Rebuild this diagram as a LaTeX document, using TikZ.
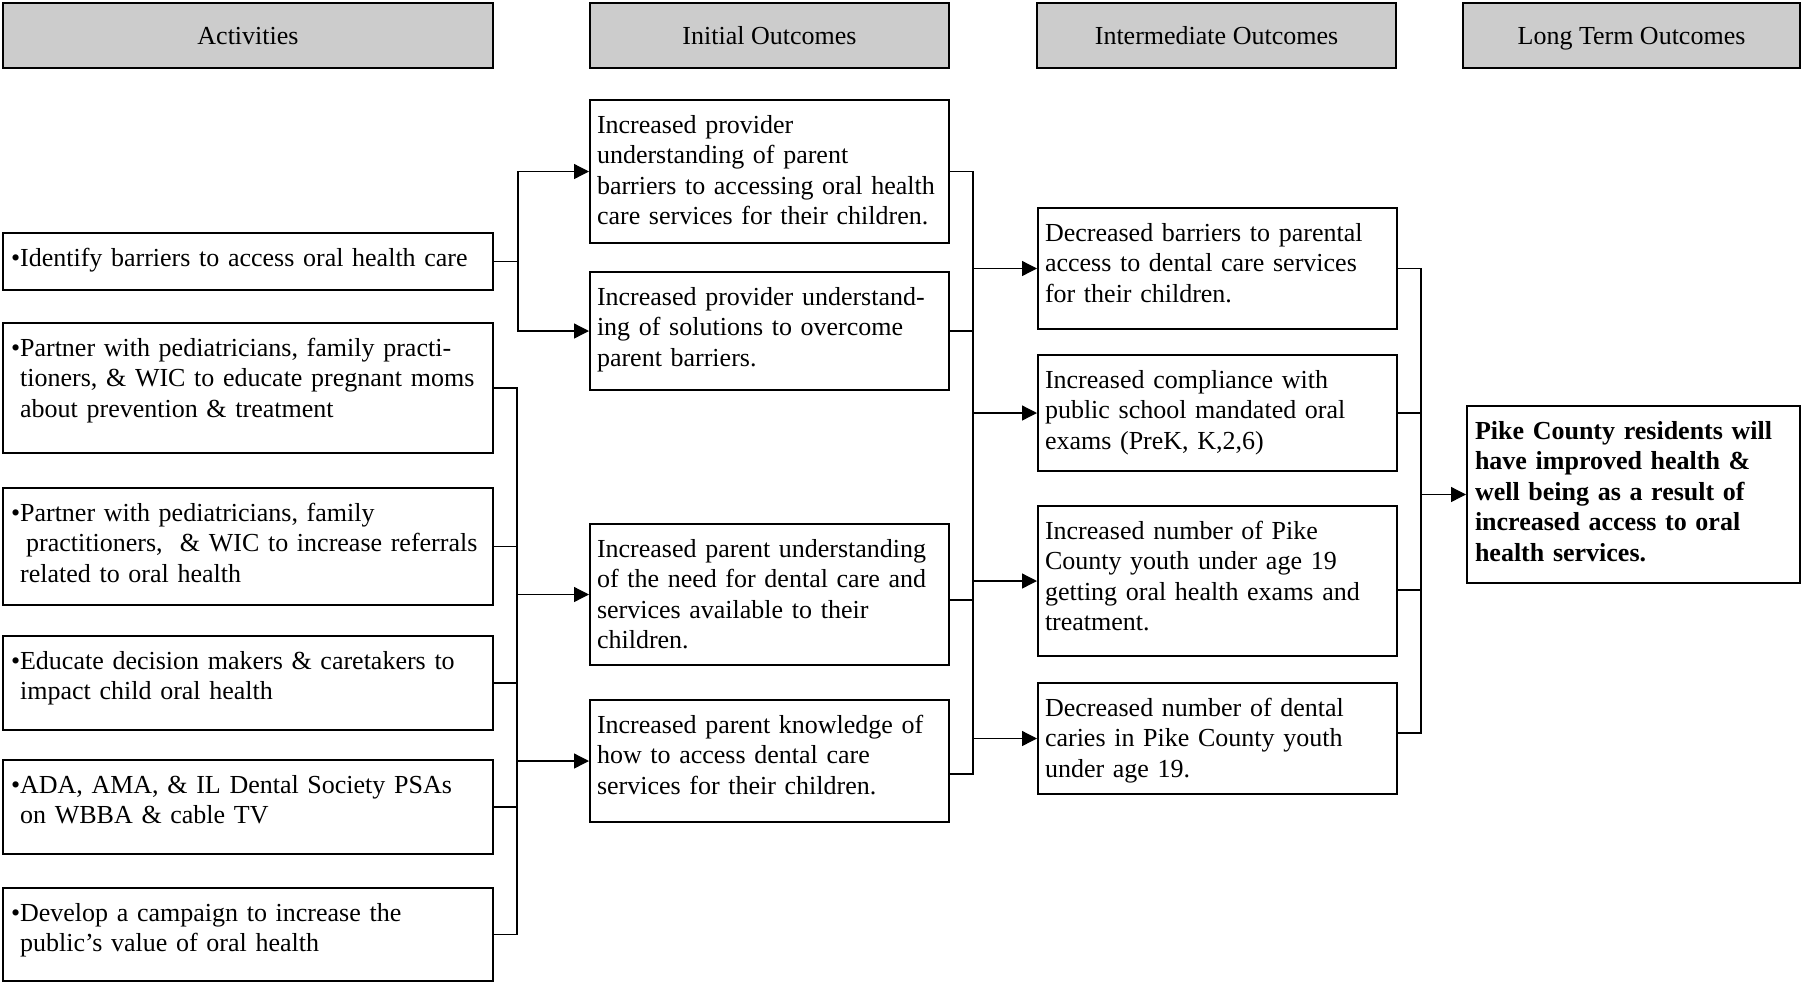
\documentclass[tikz,border=0pt]{standalone}
\usepackage{fontspec}
\setmainfont{Liberation Serif}
\usetikzlibrary{arrows.meta}

\newcommand{\boxfont}{\fontsize{13}{15.3}\selectfont}
\newcommand{\ind}{\hspace*{4.6pt}}

\begin{document}
\begin{tikzpicture}[x=0.5pt,y=-0.5pt]

% definitions
\tikzstyle{header} = [rectangle, anchor=north west, minimum height=32.5pt, inner sep=0pt, text height=9pt, text depth=0pt, text centered, draw=black, line width=1pt, fill=black!20, font=\boxfont]

\tikzstyle{activity} = [rectangle, anchor=north west, text width=237pt, inner xsep=4pt, inner ysep=7.5pt, text height=9pt, align=left, draw=black, line width=1pt, font=\boxfont]

\tikzstyle{outcome} = [activity, text width=172.5pt, inner xsep=3.5pt]

\tikzstyle{longterm} = [activity, text width=158.5pt, font=\boxfont\bfseries]

\tikzstyle{link} = [line width=0.65pt]

\tikzstyle{arrow} = [link, -{Triangle[length=7.5pt,width=7.5pt]}]

\useasboundingbox (0,0) rectangle (1801,981);

% the graph
\node (h1) [header, minimum width=245pt] at (2,2) {Activities};
\node (h2) [header, minimum width=179.5pt] at (589,2) {Initial Outcomes};
\node (h3) [header, minimum width=179.5pt] at (1036,2) {Intermediate Outcomes};
\node (h4) [header, minimum width=168.5pt] at (1462,2) {Long Term Outcomes};

\node (a1) [activity, text depth=4.5pt] at (2,232) {•Identify barriers to access oral health care};
\node (a2) [activity, text depth=41pt] at (2,322) {•Partner with pediatricians, family practi-\\ \ind tioners, \& WIC to educate pregnant moms\\ \ind about prevention \& treatment};
\node (a3) [activity, text depth=34.5pt] at (2,487) {•Partner with pediatricians, family\\ \ind\hspace*{3pt}practitioners,\ \ \& WIC to increase referrals\\ \ind related to oral health};
\node (a4) [activity, text depth=23pt] at (2,635) {•Educate decision makers \& caretakers to\\ \ind impact child oral health};
\node (a5) [activity, text depth=23pt] at (2,759) {•ADA, AMA, \& IL Dental Society PSAs\\ \ind on WBBA \& cable TV};
\node (a6) [activity, text depth=22.5pt] at (2,887) {•Develop a campaign to increase the\\ \ind public’s value of oral health};

\node (i1) [outcome, text depth=47.5pt] at (589,99) {Increased provider\\ understanding of parent\\ barriers to accessing oral health\\ care services for their children.};
\node (i2) [outcome, text depth=35pt] at (589,271) {Increased provider understand-\\ ing of solutions to overcome\\ parent barriers.};
\node (i3) [outcome, text depth=46.5pt] at (589,523) {Increased parent understanding\\ of the need for dental care and\\ services available to their\\ children.};
\node (i4) [outcome, text depth=37pt] at (589,699) {Increased parent knowledge of\\ how to access dental care\\ services for their children.};

\node (m1) [outcome, text depth=36.5pt] at (1037,207) {Decreased barriers to parental\\ access to dental care services\\ for their children.};
\node (m2) [outcome, text depth=34pt] at (1037,354) {Increased compliance with\\ public school mandated oral\\ exams (PreK, K,2,6)};
\node (m3) [outcome, text depth=51pt] at (1037,505) {Increased number of Pike\\ County youth under age 19\\ getting oral health exams and\\ treatment.};
\node (m4) [outcome, text depth=31.5pt] at (1037,682) {Decreased number of dental\\ caries in Pike County youth\\ under age 19.};

\node (lt) [longterm, text depth=64.5pt] at (1466,405) {Pike County residents will\\ have improved health \&\\ well being as a result of\\ increased access to oral\\ health services.};

\coordinate (bus1) at (518,0);
\coordinate (bus2) at (517,0);
\coordinate (bus3) at (973,0);
\coordinate (bus4) at (1421,0);
\coordinate (i3out) at ([yshift=-2.75pt]i3.east);
\coordinate (i4out) at ([yshift=-6.5pt]i4.east);
\coordinate (m3out) at ([yshift=-4.5pt]m3.east);
\coordinate (m4out) at ([yshift=2.75pt]m4.east);

\draw [link] (a1.east) -- (a1.east -| bus1);
\draw [arrow] (a1.east -| bus1) |- (i1.west);
\draw [arrow] (a1.east -| bus1) |- (i2.west);

\draw [link] (a2.east) -| (a6.east -| bus2) -- (a6.east);
\foreach \n in {a3,a4,a5} \draw [link] (\n.east) -- (\n.east -| bus2);
\draw [arrow] (i3.west -| bus2) -- (i3.west);
\draw [arrow] (i4.west -| bus2) -- (i4.west);

\draw [link] (i1.east) -| (i4out -| bus3) -- (i4out);
\draw [link] (i2.east) -- (i2.east -| bus3);
\draw [link] (i3out) -- (i3out -| bus3);
\foreach \n in {m1,m2,m3,m4} \draw [arrow] (\n.west -| bus3) -- (\n.west);

\draw [link] (m1.east) -| (m4out -| bus4) -- (m4out);
\draw [link] (m2.east) -- (m2.east -| bus4);
\draw [link] (m3out) -- (m3out -| bus4);
\draw [arrow] (lt.west -| bus4) -- (lt.west);

\end{tikzpicture}
\end{document}
